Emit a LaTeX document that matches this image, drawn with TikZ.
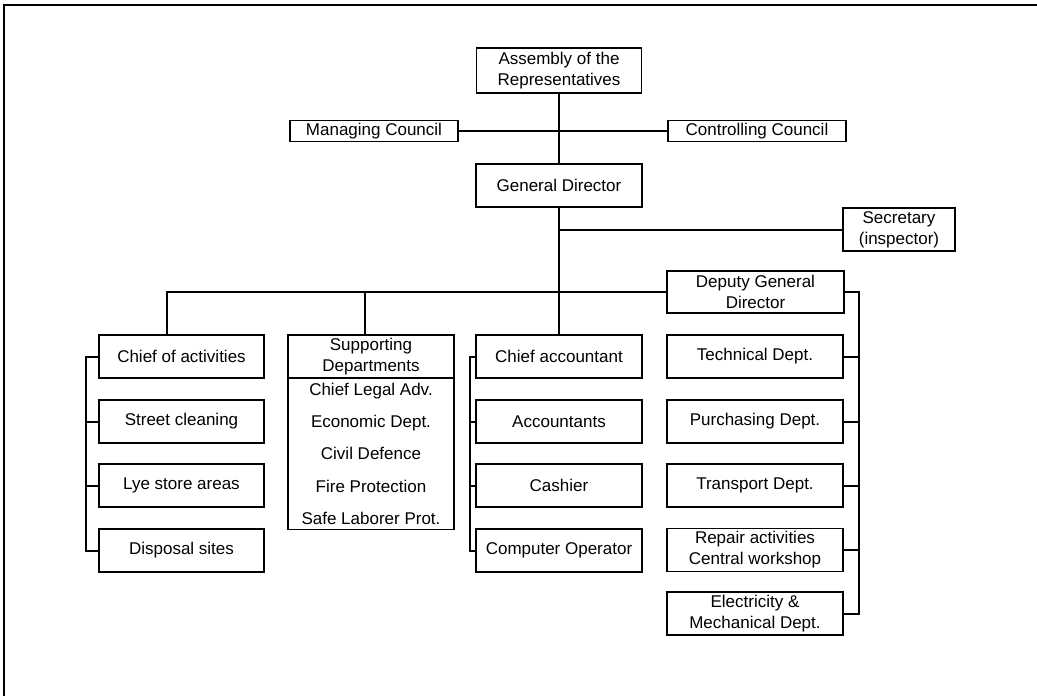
\documentclass[tikz,border=0pt]{standalone}
\usepackage{fontspec}
\setmainfont{Liberation Sans}
\begin{document}
\begin{tikzpicture}[x=1pt,y=-1pt,
  box/.style={draw, line width=1.5pt, inner sep=0pt, align=center,
              font=\fontsize{17}{21}\selectfont},
  flat/.style={box, minimum height=21pt},
  unit/.style={box, minimum height=43pt},
  colA/.style={unit, minimum width=165pt},
  colC/.style={unit, minimum width=166pt},
  colD/.style={unit, minimum width=176pt},
  link/.style={line width=2pt},
  frame/.style={line width=2.2pt}
]
\useasboundingbox (0,0) rectangle (1037,696);

% page frame (top and left edges)
\draw[frame] (4,696) -- (4,5) -- (1037,5);

% top of the hierarchy
\node[box, minimum width=165pt, minimum height=45pt] (asm) at (559,70.5) {Assembly of the\\Representatives};
\node[flat, minimum width=168pt] (mgc) at (374,131) {Managing Council};
\node[flat, minimum width=178pt] (ctc) at (757,131) {Controlling Council};
\node[unit, minimum width=166pt] (gd) at (559,185.5) {General Director};
\node[unit, minimum width=112pt] (sec) at (899,229.5) {Secretary\\(inspector)};
\node[box, minimum width=177pt, minimum height=42pt] (dgd) at (755.5,292) {Deputy General\\Director};

% activities column
\node[colA] (coa) at (181.5,356.5) {Chief of activities};
\node[colA] (stc) at (181.5,421.5) {Street cleaning};
\node[colA] (lye) at (181.5,485.5) {Lye store areas};
\node[colA] (dis) at (181.5,550.5) {Disposal sites};

% supporting departments: header above a list box sharing one edge
\node[colC] (sup) at (371,356.5) {Supporting\\Departments};
\node[box, anchor=north, minimum width=166pt, minimum height=151.5pt,
      font=\fontsize{17}{32.2}\selectfont] (supl) at ([yshift=1.5pt]sup.south)
  {Chief Legal Adv.\\Economic Dept.\\Civil Defence\\Fire Protection\\Safe Laborer Prot.};

% accounting column
\node[colC] (ca)  at (559,356.5) {Chief accountant};
\node[colC] (acc) at (559,421.5) {Accountants};
\node[colC] (cas) at (559,485.5) {Cashier};
\node[colC] (cop) at (559,550.5) {Computer Operator};

% technical column
\node[colD] (tec) at (755,356.5) {Technical Dept.};
\node[colD] (pur) at (755,421.5) {Purchasing Dept.};
\node[colD] (tra) at (755,485.5) {Transport Dept.};
\node[colD] (rep) at (755,550) {Repair activities\\Central workshop};
\node[colD] (ele) at (755,613.5) {Electricity \&\\Mechanical Dept.};

% connectors
\draw[link] (asm) -- (gd);
\draw[link] (mgc) -- (ctc);
\draw[link] (gd) -- (ca);
\draw[link] (gd.south |- sec.west) -- (sec.west);

\coordinate (coaTop) at ([xshift=-14.5pt]coa.north);
\coordinate (supTop) at ([xshift=-6pt]sup.north);
\draw[link] (coaTop) |- (dgd.west);
\draw[link] (supTop) -- (supTop |- dgd.west);

\draw[link] (coa.west) -- ++(-12,0) |- (dis.west);
\draw[link] (stc.west) -- ++(-12,0);
\draw[link] (lye.west) -- ++(-12,0);

\draw[link] (ca.west) -- ++(-5,0) |- (cop.west);
\draw[link] (acc.west) -- ++(-5,0);
\draw[link] (cas.west) -- ++(-5,0);

\draw[link] (dgd.east) -- ++(14,0) |- (ele.east);
\draw[link] (tec.east) -- ++(15,0);
\draw[link] (pur.east) -- ++(15,0);
\draw[link] (tra.east) -- ++(15,0);
\draw[link] (rep.east) -- ++(15,0);
\end{tikzpicture}
\end{document}
